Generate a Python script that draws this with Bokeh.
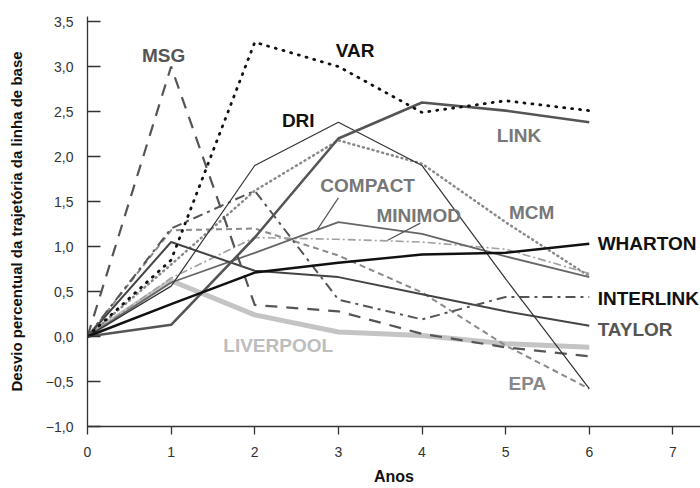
from bokeh.plotting import figure
from bokeh.models import FixedTicker, CustomJSTickFormatter, Label, Range1d
from bokeh.embed import file_html
from bokeh.resources import INLINE

# ---- data ----
years = [0, 1, 2, 3, 4, 5, 6]
msg = [0, 3.0, 0.35, 0.28, 0.03, -0.12, -0.22]
var = [0, 0.85, 3.27, 3.0, 2.49, 2.62, 2.51]
dri = [0, 0.56, 1.9, 2.38, 1.9, 0.64, -0.58]
link = [0, 0.13, 1.1, 2.2, 2.6, 2.51, 2.38]
compact = [0, 0.6, 0.93, 1.27, 1.14, 0.89, 0.66]
minimod = [0, 0.65, 1.1, 1.08, 1.05, 0.97, 0.7]
mcm = [0, 0.8, 1.62, 2.18, 1.92, 1.27, 0.67]
wharton = [0, 0.36, 0.71, 0.82, 0.91, 0.93, 1.03]
interlink = [0, 1.2, 1.62, 0.41, 0.19, 0.44, 0.44]
taylor = [0, 1.05, 0.73, 0.66, 0.47, 0.28, 0.12]
liverpool = [0, 0.62, 0.24, 0.05, 0.01, -0.08, -0.12]
epa = [0, 1.18, 1.2, 0.9, 0.49, -0.1, -0.58]

x_ticks = [0, 1, 2, 3, 4, 5, 6, 7]
y_ticks = [-1.0, -0.5, 0.0, 0.5, 1.0, 1.5, 2.0, 2.5, 3.0, 3.5]

FONT = "Liberation Sans"

p = figure(width=700, height=488, output_backend="svg", toolbar_location=None,
           x_range=Range1d(0, 7.33), y_range=Range1d(-1.0, 3.556),
           min_border_left=87, min_border_right=0, min_border_top=16,
           min_border_bottom=62)
p.outline_line_color = None
p.xgrid.grid_line_color = None
p.ygrid.grid_line_color = None
p.background_fill_color = "white"
p.border_fill_color = "white"

# series (back to front)
p.line(years, liverpool, line_color="#c4c4c4", line_width=5)
p.line(years, epa, line_color="#8a8a8a", line_width=2, line_dash="6 4")
p.line(years, minimod, line_color="#a0a0a0", line_width=1.6, line_dash="8 3 2 3")
p.line(years, compact, line_color="#666666", line_width=1.8)
p.line(years, mcm, line_color="#8a8a8a", line_width=2.5, line_dash="1 4", line_cap="round")
p.line(years, taylor, line_color="#444444", line_width=2)
p.line(years, interlink, line_color="#555555", line_width=2, line_dash="10 5 3 5")
p.line(years, msg, line_color="#555555", line_width=2.2, line_dash="12 9")
p.line(years, dri, line_color="#333333", line_width=1.2)
p.line(years, link, line_color="#555555", line_width=2.6)
p.line(years, wharton, line_color="#111111", line_width=2.5)
p.line(years, var, line_color="#111111", line_width=2.8, line_dash="1 7", line_cap="round")

# leader lines for COMPACT and MINIMOD
p.segment(x0=[3.0, 3.98], y0=[1.54, 1.26], x1=[2.75, 3.59], y1=[1.19, 1.07],
          line_color="#555555", line_width=1.2)

labels = [
    ("MSG", 0.91, 3.12, "#555555", "center"),
    ("VAR", 3.2, 3.18, "#111111", "center"),
    ("DRI", 2.52, 2.4, "#111111", "center"),
    ("LINK", 5.16, 2.23, "#777777", "center"),
    ("COMPACT", 3.35, 1.68, "#777777", "center"),
    ("MINIMOD", 3.96, 1.34, "#777777", "center"),
    ("MCM", 5.31, 1.38, "#777777", "center"),
    ("WHARTON", 6.1, 1.03, "#111111", "left"),
    ("INTERLINK", 6.1, 0.42, "#111111", "left"),
    ("TAYLOR", 6.1, 0.08, "#555555", "left"),
    ("LIVERPOOL", 2.28, -0.1, "#bdbdbd", "center"),
    ("EPA", 5.26, -0.52, "#888888", "center"),
]
for txt, lx, ly, col, al in labels:
    p.add_layout(Label(x=lx, y=ly, text=txt, text_color=col, text_font=FONT,
                       text_font_size="19px", text_font_style="bold",
                       text_align=al, text_baseline="middle"))

fmt = CustomJSTickFormatter(code="return tick.toFixed(1).replace('.', ',').replace('-', '\u2212');")

p.yaxis.ticker = FixedTicker(ticks=y_ticks)
p.yaxis.formatter = fmt
p.xaxis.ticker = FixedTicker(ticks=x_ticks)

for ax in (p.xaxis, p.yaxis):
    ax.axis_line_color = "#333333"
    ax.axis_line_width = 1.3
    ax.major_tick_line_color = "#333333"
    ax.major_tick_line_width = 1.3
    ax.minor_tick_line_color = None
    ax.major_label_text_font = FONT
    ax.major_label_text_font_size = "14px"
    ax.major_label_text_color = "#333333"
    ax.axis_label_text_font = FONT
    ax.axis_label_text_font_style = "bold"
    ax.axis_label_text_color = "#111111"

p.yaxis.major_tick_in = 13
p.yaxis.major_tick_out = 0
p.yaxis.major_label_standoff = 14
p.yaxis.axis_label = "Desvio percentual da trajetória da linha de base"
p.yaxis.axis_label_text_font_size = "15px"
p.yaxis.axis_label_standoff = 18

p.xaxis.major_tick_in = 0
p.xaxis.major_tick_out = 8
p.xaxis.major_label_standoff = 12
p.xaxis.axis_label = "Anos"
p.xaxis.axis_label_text_font_size = "16px"
p.xaxis.axis_label_standoff = 8

open("out.html", "w").write(file_html(p, INLINE))
